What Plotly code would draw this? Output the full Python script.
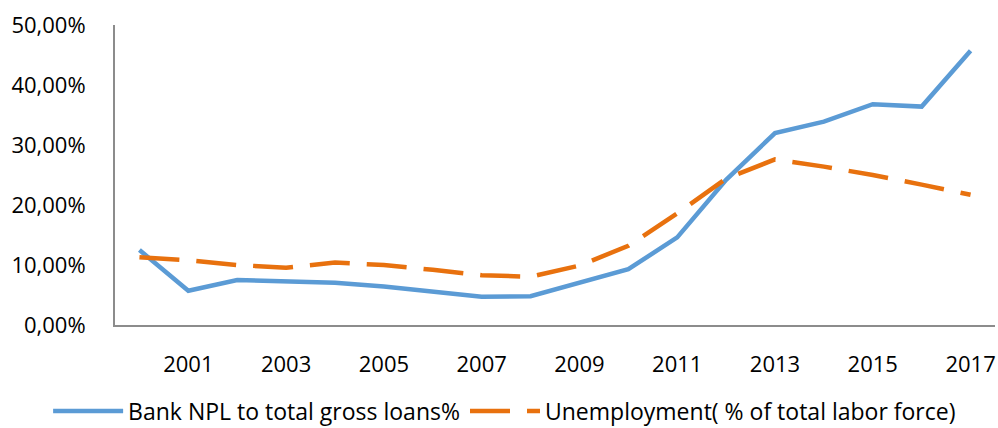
import plotly.graph_objects as go

years = list(range(2000, 2018))
npl_ratio = [0.125, 0.057, 0.075, 0.072, 0.0705, 0.064, 0.055, 0.047, 0.048, 0.0705,
             0.093, 0.146, 0.242, 0.320, 0.339, 0.368, 0.364, 0.457]
unemployment = [0.113, 0.108, 0.100, 0.0955, 0.104, 0.100, 0.092, 0.083, 0.0805, 0.099,
                0.132, 0.186, 0.244, 0.276, 0.264, 0.250, 0.234, 0.217]
tick_years = list(range(2001, 2018, 2))

fig = go.Figure()
fig.add_trace(go.Scatter(
    x=years, y=npl_ratio, mode="lines",
    name="Bank NPL to total gross loans%",
    line=dict(color="#5B9BD5", width=4.5),
))
fig.add_trace(go.Scatter(
    x=years, y=unemployment, mode="lines",
    name="Unemployment( % of total labor force)",
    line=dict(color="#E8710E", width=4.5, dash="40px,17px"),
))

font = dict(family="Open Sans", size=22, color="#000000")
fig.update_layout(
    width=998, height=428,
    margin=dict(l=115, r=3, t=25, b=103, autoexpand=False),
    paper_bgcolor="white", plot_bgcolor="white",
    separators=", ",
    font=font,
    showlegend=True,
    legend=dict(orientation="h", x=-0.076, xanchor="left", y=-0.215, yanchor="top",
                font=dict(family="Open Sans", size=23, color="#000000"),
                itemwidth=70, traceorder="normal"),
    xaxis=dict(range=[1999.5, 2017.5], tickvals=tick_years,
               ticktext=[str(y) for y in tick_years],
               showgrid=False, zeroline=False, showline=True,
               linecolor="#8C8C8C", linewidth=2, ticks="",
               ticklabelstandoff=19, fixedrange=True),
    yaxis=dict(range=[0, 0.5], tickvals=[0, 0.1, 0.2, 0.3, 0.4, 0.5],
               tickformat=".2%", showgrid=False, zeroline=False,
               showline=True, linecolor="#8C8C8C", linewidth=2, ticks="",
               ticklabelstandoff=23, fixedrange=True),
)

fig.write_html("out.html")
